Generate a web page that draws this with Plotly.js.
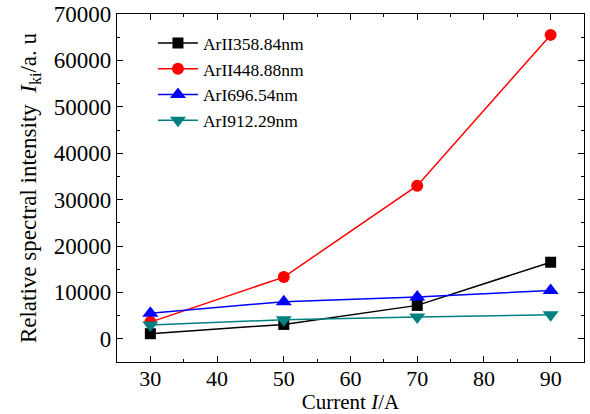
<!DOCTYPE html>
<html>
<head>
<meta charset="utf-8">
<script src="https://cdn.plot.ly/plotly-3.0.1.min.js"></script>
<style>html,body{margin:0;padding:0;background:#fff;}</style>
</head>
<body>
<div id="chart" style="width:590px;height:414px;"></div>
<script>
const currents = [30, 50, 70, 90];
const arII358 = [1100, 3100, 7200, 16500];
const arII448 = [3600, 13300, 33000, 65500];
const arI696 = [5500, 8000, 9000, 10400];
const arI912 = [3000, 4100, 4700, 5200];
const seriesNames = ['ArII358.84nm', 'ArII448.88nm', 'ArI696.54nm', 'ArI912.29nm'];
const xTicks = [30, 40, 50, 60, 70, 80, 90];
const yTicks = [0, 10000, 20000, 30000, 40000, 50000, 60000, 70000];

const font = 'Liberation Serif, Times New Roman, serif';
function tr(y, name, color, symbol, size) {
  return {x: currents, y: y, name: name, type: 'scatter', mode: 'lines+markers',
    line: {color: color, width: 1.5}, marker: {color: color, symbol: symbol, size: size}};
}
const data = [
  tr(arII358, seriesNames[0], '#000000', 'square', 11),
  tr(arII448, seriesNames[1], '#ff0000', 'circle', 12),
  tr(arI696, seriesNames[2], '#0000ff', 'triangle-up', 14),
  tr(arI912, seriesNames[3], '#008080', 'triangle-down', 14)
];
const axisCommon = {
  showline: true, mirror: 'ticks', linecolor: '#000', linewidth: 1.2,
  ticks: 'inside', ticklen: 6, tickcolor: '#000', showgrid: false, zeroline: false,
  tickfont: {family: font, size: 23, color: '#000'}
};
const layout = {
  width: 590, height: 414,
  margin: {l: 117, r: 6, t: 14, b: 52},
  paper_bgcolor: '#fff', plot_bgcolor: '#fff',
  font: {family: font, color: '#000'},
  showlegend: true,
  legend: {x: 0.077, y: 0.968, xanchor: 'left', yanchor: 'top', bgcolor: 'rgba(0,0,0,0)',
    font: {family: font, size: 17.5, color: '#000'}, tracegroupgap: 0, itemwidth: 40},
  xaxis: Object.assign({}, axisCommon, {
    range: [25, 95], tickvals: xTicks, ticktext: xTicks.map(String),
    tickfont: {family: font, size: 22, color: '#000'},
    ticklabelstandoff: -4,
    minor: {ticks: 'inside', ticklen: 3, dtick: 5, tickcolor: '#000'},
    title: {text: 'Current <i>I</i>/A', font: {family: font, size: 21}, standoff: 0}
  }),
  yaxis: Object.assign({}, axisCommon, {
    range: [-5000, 70000], tickvals: yTicks, ticktext: yTicks.map(String),
    minor: {ticks: 'inside', ticklen: 3, dtick: 5000, tickcolor: '#000'},
    title: {text: 'Relative spectral intensity  <i>I</i><sub>ki</sub>/a. u', font: {family: font, size: 23}, standoff: 10}
  })
};
Plotly.newPlot('chart', data, layout, {displayModeBar: false, staticPlot: true});
</script>
</body>
</html>
